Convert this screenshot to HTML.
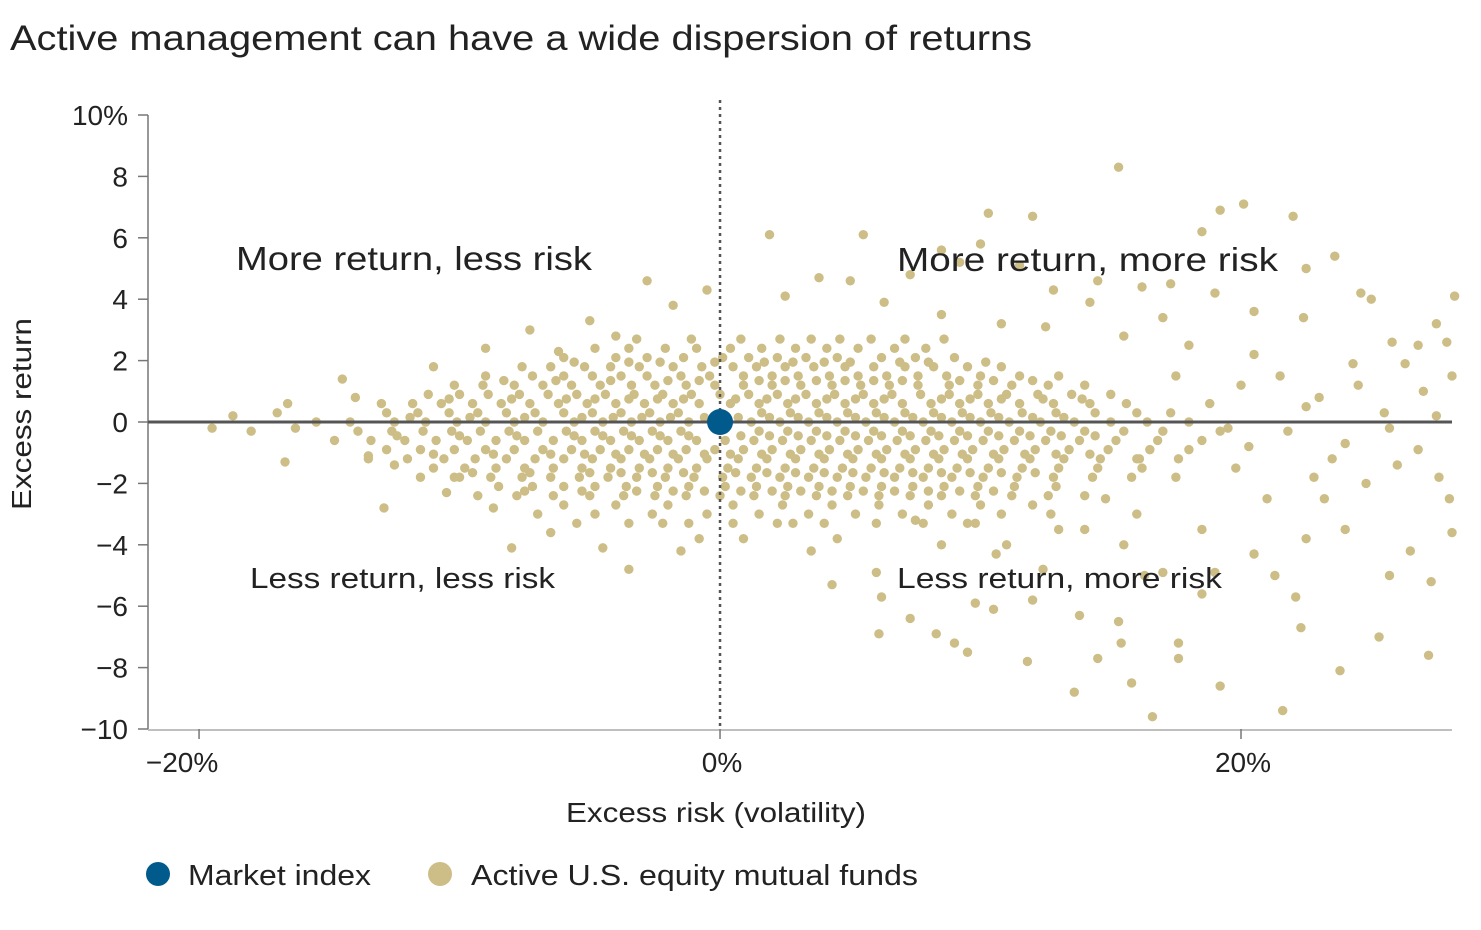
<!DOCTYPE html>
<html><head><meta charset="utf-8">
<style>
html,body{margin:0;padding:0;background:#fff;}
body{width:1481px;height:925px;overflow:hidden;font-family:"Liberation Sans",sans-serif;color:#222;}
svg text{font-family:"Liberation Sans",sans-serif;fill:#222;}
</style></head>
<body>
<svg id="chart" width="1481" height="925" viewBox="0 0 1481 925" xmlns="http://www.w3.org/2000/svg">
<text x="10" y="50" font-size="35" textLength="1022" lengthAdjust="spacingAndGlyphs">Active management can have a wide dispersion of returns</text>
<g id="axes"></g>
<g id="points"></g>
<g id="overlay"></g>
<text x="236" y="270" font-size="33" textLength="356" lengthAdjust="spacingAndGlyphs">More return, less risk</text>
<text x="897" y="271" font-size="33" textLength="381" lengthAdjust="spacingAndGlyphs">More return, more risk</text>
<text x="250" y="588" font-size="29" textLength="305" lengthAdjust="spacingAndGlyphs">Less return, less risk</text>
<text x="897" y="588" font-size="29" textLength="325" lengthAdjust="spacingAndGlyphs">Less return, more risk</text>
<text x="566" y="822" font-size="28" textLength="300" lengthAdjust="spacingAndGlyphs">Excess risk (volatility)</text>
<text transform="translate(31,510) rotate(-90)" font-size="28" textLength="192" lengthAdjust="spacingAndGlyphs">Excess return</text>
<g>
<circle cx="158" cy="874" r="12" fill="#005a8c"/>
<text x="188" y="885" font-size="29" textLength="183" lengthAdjust="spacingAndGlyphs">Market index</text>
<circle cx="440" cy="874" r="12" fill="#cdbd86"/>
<text x="471" y="885" font-size="29" textLength="447" lengthAdjust="spacingAndGlyphs">Active U.S. equity mutual funds</text>
</g>
</svg>
<script>
const xTicks = [-20, 0, 20];
const xTickLabels = ["\u221220%", "0%", "20%"];
const yTicks = [10, 8, 6, 4, 2, 0, -2, -4, -6, -8, -10];
const yTickLabels = ["10%", "8", "6", "4", "2", "0", "\u22122", "\u22124", "\u22126", "\u22128", "\u221210"];
const marketIndex = [0, 0];
const fundRows = [
"2.4:-4.8,-3.5,-2.1,-0.9,0.4,1.6,2.9,4.1,5.3,6.7,7.9",
"1.8:-7.6,-6.5,-5.2,-4.2,-3.1,-1.8,-0.7,0.5,1.4,2.5,3.6,4.8,5.9,7.1,8.2,9.5,10.8",
"1.2:-10.2,-9.1,-7.9,-6.8,-5.7,-4.6,-3.4,-2.5,-1.3,-0.2,0.9,2.0,3.1,4.3,5.4,6.5,7.6,8.8,9.9,11.2,12.6,14.0",
"0.6:-13,-11.8,-10.7,-9.5,-8.4,-7.3,-6.2,-5.1,-4.0,-2.9,-1.8,-0.8,0.4,1.5,2.6,3.7,4.8,5.9,7.0,8.1,9.2,10.3,11.5,12.8,14.2,15.6",
"0.0:-15.5,-14.2,-12.5,-11.3,-10.1,-9.0,-7.9,-6.8,-5.6,-4.5,-3.4,-2.3,-1.2,1.2,2.3,3.4,4.5,5.6,6.7,7.8,8.9,10.0,11.1,12.3,13.6,15.0,16.4,18.0",
"-0.6:-14.8,-13.4,-12.1,-10.9,-9.7,-8.6,-7.5,-6.4,-5.3,-4.2,-3.1,-2.0,-0.9,0.2,1.3,2.4,3.5,4.6,5.7,6.8,7.9,9.0,10.1,11.3,12.5,13.8,15.2,16.8,18.5",
"-1.2:-13.5,-12,-10.6,-9.4,-8.2,-7.1,-6.0,-4.9,-3.8,-2.7,-1.6,-0.5,0.7,1.8,2.9,4.0,5.1,6.2,7.3,8.4,9.5,10.7,11.9,13.2,14.6,16.1,17.6",
"-1.8:-11.5,-10.2,-8.8,-7.6,-6.5,-5.4,-4.3,-3.2,-2.1,-1.0,0.1,1.2,2.3,3.4,4.5,5.6,6.7,7.8,8.9,10.1,11.4,12.8,14.3,15.8",
"-2.4:-9.3,-7.8,-6.4,-5.0,-3.7,-2.5,-1.3,0,1.3,2.5,3.7,4.9,6.1,7.3,8.5,9.8,11.2,12.6,14.0",
"-3.0:-7,-4.8,-2.6,-0.5,1.5,3.4,5.2,7.0,8.9,10.8,12.7",
"2.1:-6,-4,-2.8,-1.4,0.1,1.1,2.2,3.3,4.5,6.2,7.5,9",
"1.5:-9,-7.2,-6,-4.9,-3.8,-2.8,-1.5,-0.4,0.9,2.0,3.0,4.2,5.3,6.4,7.6,8.7,10,11.5,13",
"0.9:-11.2,-10,-8.9,-7.7,-6.6,-5.5,-4.4,-3.3,-2.2,-1.1,0,1.1,2.2,3.3,4.4,5.5,6.6,7.7,8.8,9.9,11,12.2,13.5,15",
"0.3:-12.8,-11.6,-10.4,-9.3,-8.2,-7.1,-6,-4.9,-3.8,-2.7,-1.6,1.6,2.7,3.8,4.9,6,7.1,8.2,9.3,10.4,11.6,12.9,14.4,16,17.3",
"-0.3:-13.9,-12.6,-11.4,-10.3,-9.2,-8.1,-7,-5.9,-4.8,-3.7,-2.6,-1.5,1.5,2.6,3.7,4.8,5.9,7,8.1,9.2,10.3,11.5,12.7,14,15.5,17,19.2",
"-0.9:-12.8,-11.5,-10.2,-9,-7.9,-6.8,-5.7,-4.6,-3.5,-2.4,-1.3,-0.2,0.9,2,3.1,4.2,5.3,6.4,7.5,8.6,9.7,10.9,12.1,13.4,14.9,16.5,18",
"-1.5:-11,-9.8,-8.6,-7.5,-6.4,-5.3,-4.2,-3.1,-2,-0.9,0.3,1.4,2.5,3.6,4.7,5.8,6.9,8,9.1,10.3,11.6,13,14.5,16.2",
"-2.1:-8.5,-7.2,-6,-4.8,-3.6,-2.4,-1.2,0.2,1.4,2.6,3.8,5,6.2,7.4,8.6,9.9,11.3,12.9",
"-2.7:-6,-4,-2,0.5,2.4,4.3,6.1,8,10,12",
"2.7:-3.2,-1.1,0.8,2.3,3.5,4.6,5.8,7.1,8.6",
"1.95:-5.6,-3.5,-2.3,-0.2,1.7,2.8,4.0,5.0,6.9,8.0,10.2",
"1.35:-8.3,-6.3,-4.2,-2.0,-0.8,1.5,2.5,3.7,4.8,5.9,7.0,9.2,10.5,12.0",
"0.75:-10.4,-8.0,-5.9,-4.8,-3.5,-2.4,-1.4,0.6,1.8,2.9,4.1,5.2,6.3,8.5,9.6,10.8,12.4,13.9",
"0.15:-11.9,-9.6,-7.5,-5.3,-4.1,-3.0,-1.9,-0.6,0.7,1.9,3.0,4.1,5.2,6.3,7.4,8.5,9.6,10.7,12.0,13.2",
"-0.45:-12.4,-10.0,-7.8,-5.6,-4.5,-3.4,-2.3,-1.2,0.8,1.9,3.0,4.1,5.2,6.2,7.3,8.4,9.5,10.7,11.9,13.1,14.4",
"-1.05:-11.0,-8.7,-6.5,-5.2,-4.0,-2.9,-1.8,-0.6,0.4,1.6,2.7,3.8,4.9,6.0,7.1,8.2,9.3,10.5,11.7,12.9,14.2",
"-1.65:-9.5,-7.3,-5.0,-3.8,-2.6,-1.4,0.6,1.8,2.9,4.0,5.1,6.3,7.4,8.5,9.6,10.8,12.1",
"-2.25:-7.5,-5.3,-3.2,-1.8,-0.6,0.8,2.0,3.1,4.3,5.5,6.7,8.0,9.2,10.5",
"-3.3:-5.5,-3.5,-1.2,0.5,2.2,4.0,6.0,7.8,9.8"
];
const fundOutliers = "-19.5,-0.2;-18.7,0.2;-18,-0.3;-17,0.3;-16.6,0.6;-16.3,-0.2;-16.7,-1.3;-14.5,1.4;-14,0.8;-13.5,-1.1;-12.5,-1.4;-12.9,-2.8;-11,1.8;-10.5,-2.3;-9,2.4;-8.7,-2.8;-8,-4.1;-7.3,3;-6.5,-3.6;-5,3.3;-4.5,-4.1;-3.5,-4.8;-2.8,4.6;-1.8,3.8;-1.5,-4.2;-0.5,4.3;-0.8,-3.8;-2.2,-3.3;-4,2.8;-6.2,2.3;-10,-1.8;15.3,8.3;1.9,6.1;5.5,6.1;10.3,6.8;12,6.7;19.2,6.9;20.1,7.1;22,6.7;18.5,6.2;10,5.8;8.5,5.6;14.5,4.6;16.2,4.4;17.3,4.5;22.5,5;23.6,5.4;9.2,5.2;11.5,5.1;7.3,4.8;3.8,4.7;5.0,4.6;12.8,4.3;19,4.2;24.6,4.2;25,4.0;20.5,3.6;14.2,3.9;17,3.4;22.4,3.4;27.5,3.2;28.2,4.1;26.8,2.5;27.9,2.6;25.8,2.6;24.3,1.9;26.3,1.9;20.5,2.2;18,2.5;15.5,2.8;12.5,3.1;8.5,3.5;10.8,3.2;6.3,3.9;2.5,4.1;21.5,1.5;23,0.8;24.5,1.2;27,1;28.1,1.5;25.5,0.3;22.5,0.5;20,1.2;18.8,0.6;17.5,1.5;19.5,-0.2;14,-3.5;16.3,-5.0;17,-4.9;12.4,-4.8;10.6,-4.3;8.5,-4;6,-4.9;4.3,-5.3;6.2,-5.7;6.1,-6.9;7.3,-6.4;8.3,-6.9;9.0,-7.2;9.5,-7.5;11.8,-7.8;13.8,-6.3;15.3,-6.5;15.4,-7.2;14.5,-7.7;13.6,-8.8;15.8,-8.5;17.6,-7.2;17.6,-7.7;16.6,-9.6;19.2,-8.6;21.6,-9.4;22.3,-6.7;22.1,-5.7;21.3,-5;19,-4.9;23.8,-8.1;25.7,-5;25.3,-7;27.3,-5.2;27.2,-7.6;26.5,-4.2;28.1,-3.6;24,-3.5;23.2,-2.5;22.5,-3.8;20.5,-4.3;18.5,-3.5;16,-3;14.8,-2.5;19.8,-1.5;21,-2.5;22.8,-1.8;24.8,-2;26,-1.4;27.6,-1.8;28,-2.5;20.3,-0.8;24,-0.7;25.7,-0.2;26.8,-0.9;21.8,-0.3;17.5,-1.8;16,-1.2;13,-3.5;11,-4;9.5,-3.3;7.5,-3.2;4.5,-3.8;2.8,-3.3;0.9,-3.8;3.5,-4.2;12,-5.8;9.8,-5.9;10.5,-6.1;18.5,-5.6;15.5,-4;27.5,0.2;23.5,-1.2";

const NS = "http://www.w3.org/2000/svg";
const X0 = 148, X1 = 1452, Y0 = 115, Y1 = 729;
const xMin = -21.96, xMax = 28.1, yMin = -10, yMax = 10;
function xs(v){ return X0 + (v - xMin) / (xMax - xMin) * (X1 - X0); }
function ys(v){ return Y1 - (v - yMin) / (yMax - yMin) * (Y1 - Y0); }
function mk(tag, attrs, parent){ const e = document.createElementNS(NS, tag); for (const k in attrs) e.setAttribute(k, attrs[k]); parent.appendChild(e); return e; }

const axes = document.getElementById('axes');
let l = mk('line', {x1:X0, y1:Y0, x2:X0, y2:Y1, stroke:'#777', 'stroke-width':1.5}, axes);


l = mk('line', {x1:X0, y1:Y1+1, x2:X1, y2:Y1+1, stroke:'#aaa', 'stroke-width':1.5}, axes);


yTicks.forEach((v, i) => {
  const t = mk('line', {x1:X0-10, y1:ys(v), x2:X0, y2:ys(v), stroke:'#777', 'stroke-width':1.5}, axes);
  
  
  const tx = mk('text', {x:128, y:ys(v)+10, 'font-size':28, 'text-anchor':'end'}, axes);
  tx.textContent = yTickLabels[i];
  
  
});
xTicks.forEach((v, i) => {
  const t = mk('line', {x1:xs(v), y1:Y1, x2:xs(v), y2:Y1+10, stroke:'#777', 'stroke-width':1.5}, axes);
  
  
  const tx = mk('text', {x:xs(v)+(i===0?-17:2), y:772, 'font-size':28, 'text-anchor':'middle'}, axes);
  tx.textContent = xTickLabels[i];
  
  
});

const pts = document.getElementById('points');
function addPoint(x, y){
  const c = mk('circle', {cx:xs(x), cy:ys(y), r:4.7, fill:'#cdbd86'}, pts);
  
  
}
fundRows.forEach(row => {
  const parts = row.split(':');
  const y = parseFloat(parts[0]);
  parts[1].split(',').forEach(x => addPoint(parseFloat(x), y));
});
fundOutliers.split(';').forEach(p => { const a = p.split(','); addPoint(parseFloat(a[0]), parseFloat(a[1])); });

const ov = document.getElementById('overlay');
l = mk('line', {x1:X0, y1:ys(0), x2:X1, y2:ys(0), stroke:'#555', 'stroke-width':3}, ov);


l = mk('line', {x1:xs(0), y1:100, x2:xs(0), y2:Y1, stroke:'#555', 'stroke-width':2.5, 'stroke-dasharray':'3,4'}, ov);


const m = mk('circle', {cx:xs(marketIndex[0]), cy:ys(marketIndex[1]), r:13, fill:'#005a8c'}, ov);


</script>
</body></html>
